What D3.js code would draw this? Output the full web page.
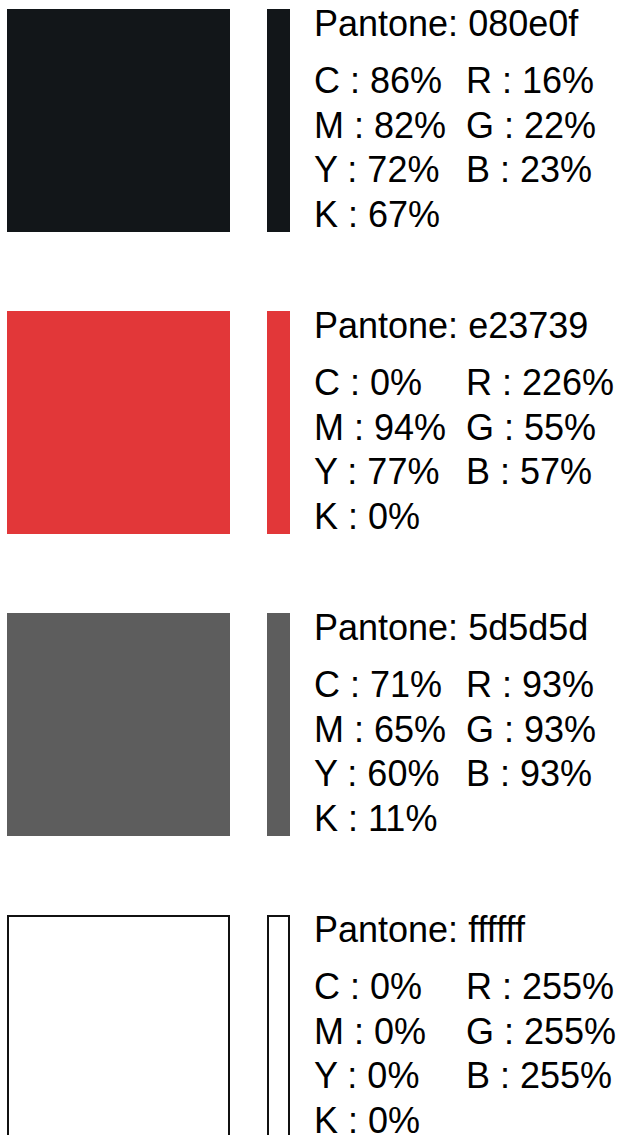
<!DOCTYPE html>
<html>
<head>
<meta charset="utf-8">
<script src="https://cdn.jsdelivr.net/npm/d3@7"></script>
<style>
    body { margin: 0; background: #fff; }
    text { font-family: "Liberation Sans", Arial, sans-serif; fill: #000; }
</style>
</head>
<body>
<svg id="palette"></svg>
<script>
const width = 621;
const height = 1135;

// swatch data
const pantone = ['080e0f', 'e23739', '5d5d5d', 'ffffff'];
const swatchColor = ['#121619', '#e23739', '#5d5d5d', '#ffffff'];
const cyan = [86, 0, 71, 0];
const magenta = [82, 94, 65, 0];
const yellow = [72, 77, 60, 0];
const black = [67, 0, 11, 0];
const red = [16, 226, 93, 255];
const green = [22, 55, 93, 255];
const blue = [23, 57, 93, 255];

const squareSize = 223;
const barWidth = 23;
const fontSize = 36;
const lineGap = 44.5;

const svg = d3.select('#palette')
    .attr('width', width)
    .attr('height', height);

const swatches = pantone.map((p, i) => ({
    pantone: p,
    color: swatchColor[i],
    cmyk: [['C', cyan[i]], ['M', magenta[i]], ['Y', yellow[i]], ['K', black[i]]],
    rgb: [['R', red[i]], ['G', green[i]], ['B', blue[i]]]
}));

// one row per swatch, evenly stepped down the page
const y = d3.scalePoint()
    .domain(pantone)
    .range([9, 915]);

const row = svg.selectAll('g.swatch').data(swatches)
    .enter()
    .append('g')
    .attr('class', 'swatch')
    .attr('transform', d => `translate(0, ${y(d.pantone)})`);

const isWhite = d => d.color.toLowerCase() === '#ffffff';

row.append('rect')
    .attr('x', d => isWhite(d) ? 8 : 7)
    .attr('y', d => isWhite(d) ? 1 : 0)
    .attr('width', d => isWhite(d) ? squareSize - 2 : squareSize)
    .attr('height', d => isWhite(d) ? squareSize - 2 : squareSize)
    .attr('fill', d => d.color)
    .attr('stroke', d => isWhite(d) ? '#111' : 'none')
    .attr('stroke-width', 2);

row.append('rect')
    .attr('x', d => isWhite(d) ? 268 : 267)
    .attr('y', d => isWhite(d) ? 1 : 0)
    .attr('width', d => isWhite(d) ? barWidth - 2 : barWidth)
    .attr('height', d => isWhite(d) ? squareSize - 2 : squareSize)
    .attr('fill', d => d.color)
    .attr('stroke', d => isWhite(d) ? '#111' : 'none')
    .attr('stroke-width', 2);

row.append('text')
    .attr('x', 314)
    .attr('y', 27)
    .style('font-size', fontSize + 'px')
    .text(d => `Pantone: ${d.pantone}`);

row.selectAll('text.cmyk').data(d => d.cmyk)
    .enter()
    .append('text')
    .attr('class', 'cmyk')
    .attr('x', 314)
    .attr('y', (d, i) => 84 + i * lineGap)
    .style('font-size', fontSize + 'px')
    .text(d => `${d[0]} : ${d[1]}%`);

row.selectAll('text.rgb').data(d => d.rgb)
    .enter()
    .append('text')
    .attr('class', 'rgb')
    .attr('x', 466)
    .attr('y', (d, i) => 84 + i * lineGap)
    .style('font-size', fontSize + 'px')
    .text(d => `${d[0]} : ${d[1]}%`);
</script>
</body>
</html>
